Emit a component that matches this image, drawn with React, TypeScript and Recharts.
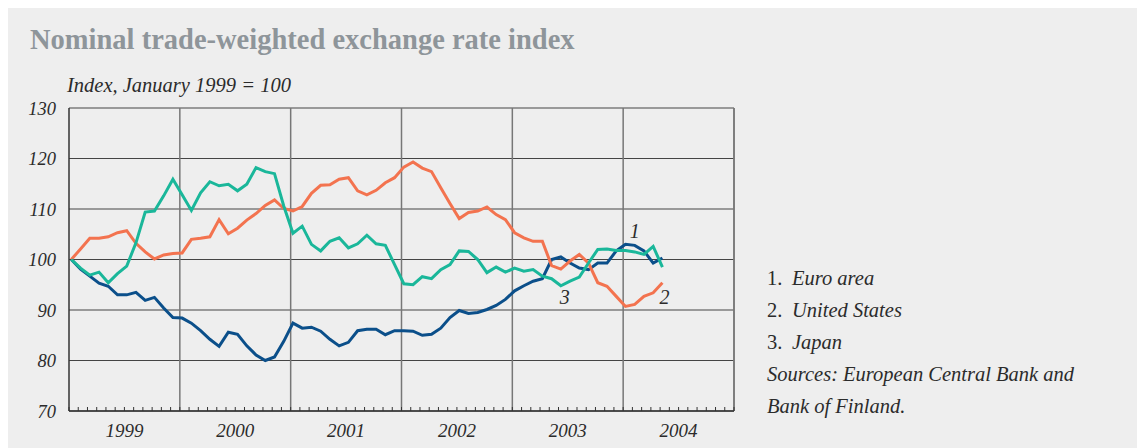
import React from 'react';
import { LineChart, Line, XAxis, YAxis, CartesianGrid, ReferenceLine } from 'recharts';

// monthly, Jan 1999 .. May 2004
const euroArea = [
  100, 98.1, 96.7, 95.3, 94.7, 93.0, 93.0, 93.5, 91.9, 92.5, 90.4, 88.5,
  88.4, 87.4, 85.9, 84.2, 82.8, 85.6, 85.2, 82.9, 81.1, 80.0, 80.7, 83.8,
  87.4, 86.4, 86.6, 85.8, 84.2, 82.9, 83.6, 85.9, 86.2, 86.2, 85.1, 85.9,
  85.9, 85.8, 85.0, 85.2, 86.4, 88.5, 89.9, 89.3, 89.5, 90.1, 90.9, 92.1,
  93.8, 94.8, 95.7, 96.2, 100.0, 100.5, 99.3, 98.3, 98.0, 99.3, 99.3, 101.7,
  103.0, 102.8, 101.7, 99.3, 100.3,
];
const unitedStates = [
  100, 102.1, 104.2, 104.2, 104.5, 105.3, 105.7, 103.2, 101.5, 100.1, 100.9, 101.2,
  101.3, 104.0, 104.2, 104.5, 107.9, 105.1, 106.2, 107.8, 109.1, 110.7, 111.8, 110.1,
  109.6, 110.5, 113.1, 114.7, 114.8, 115.9, 116.2, 113.6, 112.8, 113.7, 115.2, 116.2,
  118.3, 119.3, 118.1, 117.4, 114.2, 111.1, 108.1, 109.3, 109.6, 110.4, 108.9, 107.9,
  105.3, 104.3, 103.6, 103.6, 98.8, 98.1, 99.7, 101.0, 99.3, 95.4, 94.7, 92.7,
  90.7, 91.1, 92.7, 93.4, 95.4,
];
const japan = [
  100, 98.3, 96.9, 97.5, 95.4, 97.2, 98.7, 103.3, 109.4, 109.6, 112.6, 115.9,
  112.8, 109.7, 113.2, 115.4, 114.6, 114.9, 113.6, 114.9, 118.2, 117.4, 117.0, 110.6,
  105.2, 106.6, 103.0, 101.7, 103.6, 104.3, 102.3, 103.1, 104.8, 103.1, 102.8, 99.0,
  95.2, 95.0, 96.6, 96.2, 98.0, 99.0, 101.7, 101.6, 100.0, 97.4, 98.5, 97.5,
  98.3, 97.7, 98.0, 96.7, 96.2, 94.8, 95.7, 96.5, 99.3, 102.0, 102.1, 101.8,
  101.8, 101.5, 101.0, 102.6, 98.5,
];
const yearLabels = ['1999', '2000', '2001', '2002', '2003', '2004'];
const yTicks = [70, 80, 90, 100, 110, 120, 130];
const legendItems = ['Euro area', 'United States', 'Japan'];

const data = euroArea.map((v, i) => ({
  month: i,
  euro: v,
  us: unitedStates[i],
  japan: japan[i],
}));

// month boundaries: points sit a quarter month into each month
const monthTicks = Array.from({ length: yearLabels.length * 12 + 1 }, (_, k) => k - 0.25);
const yearLines = monthTicks.filter((_, k) => k > 0 && k % 12 === 0);

const serif = '"Liberation Serif", "DejaVu Serif", serif';
const textColor = '#2b2b2b';

const MonthTick = (props: any) => {
  const { x, y, payload } = props;
  const k = Math.round(payload.value + 0.25);
  return (
    <g>
      <line x1={x} x2={x} y1={y} y2={y - 4} stroke="#333" strokeWidth={1} />
      {k % 12 === 6 && (
        <text x={x} y={y + 26} textAnchor="middle" fontFamily={serif} fontStyle="italic" fontSize={19} fill={textColor}>
          {yearLabels[(k - 6) / 12]}
        </text>
      )}
    </g>
  );
};

const tagLabel = (tag: string, at: number, dx: number, dy: number) => (props: any) => {
  if (props.index !== at) return <g />;
  return (
    <text x={props.x + dx} y={props.y + dy} textAnchor="middle" fontFamily={serif} fontStyle="italic" fontSize={20} fill={textColor}>
      {tag}
    </text>
  );
};

const App: React.FC = () => {
  return (
    <div style={{ position: 'relative', width: 1137, height: 440, background: '#eeeeee', fontFamily: serif }}>
      <style>{'body{overflow:hidden}'}</style>
      <div style={{ position: 'absolute', left: 22, top: 18, fontSize: 28.5, lineHeight: '28px', fontWeight: 700, color: '#8e959a', whiteSpace: 'nowrap' }}>
        Nominal trade-weighted exchange rate index
      </div>
      <div style={{ position: 'absolute', left: 59, top: 68, fontSize: 20.5, lineHeight: '19px', fontStyle: 'italic', color: textColor, whiteSpace: 'nowrap' }}>
        Index, January 1999 = 100
      </div>
      <LineChart width={1137} height={440} data={data} margin={{ top: 100, right: 411, bottom: 0, left: 0 }}>
        <CartesianGrid vertical={false} stroke="#444" strokeWidth={1} />
        {yearLines.map((x) => (
          <ReferenceLine key={x} x={x} stroke="#777" strokeWidth={1.5} />
        ))}
        <ReferenceLine x={monthTicks[monthTicks.length - 1]} stroke="#777" strokeWidth={1.5} />
        <XAxis
          dataKey="month"
          type="number"
          domain={[monthTicks[0], monthTicks[monthTicks.length - 1]]}
          allowDataOverflow
          ticks={monthTicks}
          interval={0}
          tick={<MonthTick />}
          tickLine={false}
          tickSize={0}
          tickMargin={0}
          height={37}
          axisLine={{ stroke: '#333', strokeWidth: 1.5 }}
        />
        <YAxis
          domain={[70, 130]}
          ticks={yTicks}
          width={61}
          tickLine={false}
          tickSize={0}
          tickMargin={13}
          axisLine={{ stroke: '#333', strokeWidth: 1.5 }}
          tick={{ fontFamily: serif, fontStyle: 'italic', fontSize: 18.5, fill: textColor }}
        />
        <Line dataKey="euro" stroke="#0b4f8a" strokeWidth={3} dot={false} isAnimationActive={false} label={tagLabel('1', 61, 0, -7)} />
        <Line dataKey="us" stroke="#f3734f" strokeWidth={3} dot={false} isAnimationActive={false} label={tagLabel('2', 64, 2, 21)} />
        <Line dataKey="japan" stroke="#1ab79a" strokeWidth={3} dot={false} isAnimationActive={false} label={tagLabel('3', 53, 4, 18)} />
      </LineChart>
      <div style={{ position: 'absolute', left: 759, top: 254, fontSize: 20.5, lineHeight: '32px', fontStyle: 'italic', color: textColor, whiteSpace: 'nowrap' }}>
        {legendItems.map((name, i) => (
          <div key={name}>
            <span style={{ display: 'inline-block', width: 25, fontStyle: 'normal' }}>{i + 1}.</span>
            {name}
          </div>
        ))}
        <div>Sources: European Central Bank and</div>
        <div>Bank of Finland.</div>
      </div>
    </div>
  );
};

export default App;
